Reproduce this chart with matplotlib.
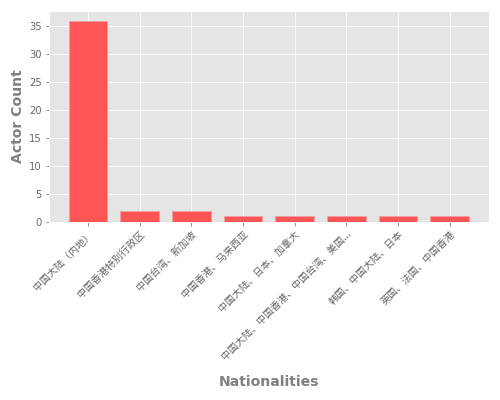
import matplotlib
matplotlib.use("Agg")
import matplotlib.pyplot as plt

# nationality labels (long ones get cut below)
nationalities = [
    "中国大陆（内地）",
    "中国香港特别行政区",
    "中国台湾、新加坡",
    "中国香港、马来西亚",
    "中国大陆、日本、加拿大",
    "中国大陆、中国香港、中国台湾、美国、加拿大、澳大利亚",
    "韩国、中国大陆、日本",
    "英国、法国、中国香港",
]
actor_counts = [36, 2, 2, 1, 1, 1, 1, 1]

BAR_COLOR = "#FF5555"
LABEL_COLOR = "gray"
CJK_FONTS = ["Noto Sans CJK SC", "DejaVu Sans"]
MAX_LABEL = 17


def short(name, limit=MAX_LABEL):
    return name[:limit] + "..." if len(name) > limit + 2 else name


def main():
    plt.style.use("ggplot")
    fig, ax = plt.subplots(figsize=(500 / 72, 400 / 72), dpi=72)

    labels = [short(n) for n in nationalities]
    x = range(len(labels))
    ax.bar(x, actor_counts, width=0.75, color=BAR_COLOR,
           edgecolor="#F4A0A0", linewidth=0.6)

    ax.set_xticks(list(x))
    ax.set_xticklabels(labels, rotation=45, ha="right", rotation_mode="anchor",
                       family=CJK_FONTS, fontsize=10)
    ax.tick_params(axis="both", colors="#777777", labelcolor="#666666")

    ax.set_xlabel("Nationalities", fontsize=14, fontweight="bold",
                  color=LABEL_COLOR, labelpad=13)
    ax.set_ylabel("Actor Count", fontsize=14, fontweight="bold",
                  color=LABEL_COLOR)

    plt.tight_layout()
    plt.savefig("out.png", dpi=72)
    plt.close()


if __name__ == "__main__":
    main()
